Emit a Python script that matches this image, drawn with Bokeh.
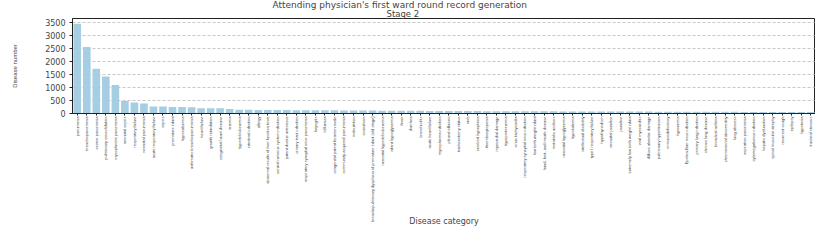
import math
from bokeh.plotting import figure
from bokeh.models import Range1d, FixedTicker, Title
from bokeh.embed import file_html
from bokeh.resources import INLINE

categories = [
    "pneumonia", "bronchopneumonia", "severe pneumonia", "pulmonary consolidation",
    "mycoplasma pneumonia", "neonatal sepsis", "respiratory failure", "neonatal pneumonia",
    "acute respiratory failure", "sepsis", "premature infant", "hypocalcemia",
    "asthmatic bronchopneumonia", "heart failure", "growth retardation",
    "congenital heart disease", "anemia", "hyperbilirubinemia", "intestinal infection",
    "allergy", "abnormal results of liver function tests", "central nervous system infection",
    "patent ductus arteriosus", "urinary tract infection",
    "respiratory syncytial virus pneumonia", "laryngitis", "influenza",
    "congenital patent foramen ovale", "community-acquired pneumonia", "malnutrition",
    "convulsion", "bronchopulmonary dysplasia of premature infant (old stage)",
    "neonatal hyperbilirubinemia", "infant hypoglycemia", "fever", "diarrhea",
    "bronchiolitis", "acute heart failure", "mycoplasma infection", "pleural effusion",
    "tracheostomy status", "rash", "cerebral hypoplasia", "thrombocytopenia",
    "myocardial damage", "hypoproteinemia", "sinus tachycardia",
    "respiratory syncytial virus infection", "low birth weight infant",
    "hand, foot, and mouth disease", "metabolic acidosis", "neonatal hypoglycemia",
    "hypokalemia", "intellectual disability", "type I respiratory failure",
    "hypothyroidism", "neonatal jaundice", "jaundice", "extremely low birth weight infant",
    "viral myocarditis", "diffuse alveolar damage", "pulmonary hypertension",
    "immunodeficiency", "hypoxemia", "Epstein-Barr virus infection",
    "primary lung infection", "chronic lung disease", "bronchial asthma",
    "chromosomal abnormality", "lung abscess", "aspiration pneumonia",
    "cytomegalovirus infection", "hepatic dysfunction", "spinal muscular atrophy",
    "recurrent cough", "epilepsy", "hypotonia", "tracheal stenosis",
]

counts = [
    3440, 2550, 1710, 1420, 1090, 480, 420, 385, 270, 265, 245, 245, 240, 205, 205,
    200, 170, 140, 140, 135, 135, 130, 130, 128, 126, 124, 122, 120, 118, 116,
    114, 112, 110, 108, 106, 104, 102, 100, 98, 96, 95, 94, 92, 91, 90, 88, 87,
    86, 85, 84, 82, 81, 80, 79, 78, 77, 76, 75, 74, 73, 72, 71, 70, 69, 68, 67,
    66, 65, 64, 63, 62, 61, 60, 59, 58, 57, 56, 55,
]

y_ticks = [0, 500, 1000, 1500, 2000, 2500, 3000, 3500]

title_main = "Attending physician's first ward round record generation"
title_sub = "Stage 2"

p = figure(
    x_range=categories, y_range=Range1d(0, 3640),
    width=815, height=229,
    output_backend="svg", toolbar_location=None,
    min_border_left=72, min_border_right=0, min_border_top=0, min_border_bottom=0,
)
p.title.visible = False
sub = Title(text=title_sub, align="left", text_font="DejaVu Sans",
            text_font_size="8.5px", text_font_style="normal", standoff=-1, offset=314)
main = Title(text=title_main, align="left", text_font="DejaVu Sans",
             text_font_size="9px", text_font_style="normal", standoff=-5, offset=200)
p.add_layout(sub, "above")
p.add_layout(main, "above")

p.vbar(x=categories, top=counts, width=0.8, color="#a6cee3", line_color=None)

p.xgrid.visible = False
p.ygrid.grid_line_color = "#b0b0b0"
p.ygrid.grid_line_dash = "3 2"
p.ygrid.grid_line_width = 0.7
p.outline_line_color = "#222222"
p.outline_line_width = 1

p.yaxis.ticker = FixedTicker(ticks=y_ticks)
p.yaxis.minor_tick_line_color = None
p.yaxis.major_tick_out = 3
p.yaxis.major_tick_in = 0
p.yaxis.major_label_text_font = "DejaVu Sans"
p.yaxis.major_label_text_font_size = "8px"
p.yaxis.major_label_standoff = 4
p.yaxis.axis_label = "Disease number"
p.yaxis.axis_label_text_font = "Liberation Sans"
p.yaxis.axis_label_text_font_size = "6px"
p.yaxis.axis_label_text_font_style = "normal"
p.yaxis.axis_label_standoff = 24

p.xaxis.major_label_orientation = math.pi / 2
p.xaxis.major_label_text_font = "Liberation Sans"
p.xaxis.major_label_text_font_size = "4px"
p.xaxis.major_label_standoff = 1
p.xaxis.major_tick_out = 2
p.xaxis.major_tick_in = 0
p.xaxis.axis_label = "Disease category"
p.xaxis.axis_label_text_font = "DejaVu Sans"
p.xaxis.axis_label_text_font_size = "8px"
p.xaxis.axis_label_text_font_style = "normal"
p.xaxis.axis_label_standoff = -8
p.axis.axis_line_color = "#222222"
p.axis.major_tick_line_color = "#222222"

open("out.html", "w").write(file_html(p, INLINE))
